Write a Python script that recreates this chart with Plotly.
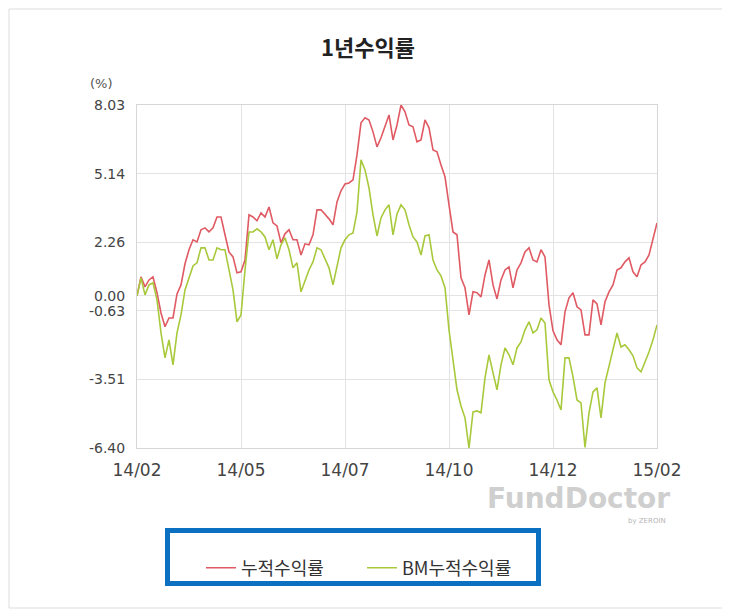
import pandas as pd
import plotly.graph_objects as go

# ---- data (cumulative returns, %) ----
start_date = "2014-02-25"
end_date = "2015-02-25"

fund_return = [
    0.00, 0.80, 0.38, 0.67, 0.80, 0.13, -0.72, -1.30, -0.93, -0.93,
    0.08, 0.46, 1.35, 1.94, 2.36, 2.27, 2.78, 2.86, 2.69, 2.86,
    3.32, 3.32, 2.57, 1.85, 1.64, 0.97, 1.01, 1.51, 3.41, 3.32,
    3.16, 3.49, 3.32, 3.74, 3.07, 2.94, 2.23, 2.61, 2.78, 2.36,
    2.36, 1.72, 2.19, 2.15, 2.57, 3.62, 3.62, 3.45, 3.24, 2.99,
    3.95, 4.42, 4.71, 4.75, 4.88, 5.93, 7.28, 7.49, 7.40, 6.90,
    6.27, 6.65, 7.11, 7.61, 6.56, 7.19, 8.03, 7.74, 7.19, 7.11,
    6.48, 6.56, 7.40, 7.07, 6.14, 6.06, 5.51, 5.01, 3.83, 2.69,
    2.57, 0.76, 0.34, -0.80, 0.17, 0.13, -0.04, 0.88, 1.51, 0.46,
    -0.13, 0.67, 1.09, 1.22, 0.34, 1.09, 1.39, 1.85, 2.02, 1.51,
    1.43, 1.94, 1.64, -0.38, -1.47, -1.85, -2.06, -0.67, -0.08, 0.13,
    -0.46, -0.59, -1.64, -1.64, -0.17, -0.34, -1.22, -0.25, 0.17, 0.46,
    1.09, 1.18, 1.43, 1.60, 1.01, 0.80, 1.30, 1.43, 1.72, 2.36,
    3.07,
]

bm_return = [
    0.00, 0.76, 0.04, 0.46, 0.55, -0.17, -1.56, -2.61, -1.85, -2.90,
    -1.56, -0.80, 0.25, 0.80, 1.26, 1.39, 2.02, 2.02, 1.51, 1.51,
    2.02, 1.94, 1.94, 1.09, 0.25, -1.09, -0.80, 1.09, 2.69, 2.69,
    2.82, 2.69, 2.48, 1.94, 2.36, 1.56, 2.15, 2.44, 1.94, 1.18,
    1.39, 0.17, 0.67, 1.09, 1.43, 2.02, 1.94, 1.56, 1.18, 0.46,
    1.30, 2.02, 2.36, 2.57, 2.65, 3.53, 5.72, 5.30, 4.54, 3.41,
    2.52, 3.28, 3.62, 3.83, 2.57, 3.45, 3.83, 3.62, 2.99, 2.48,
    2.27, 1.72, 2.52, 2.57, 1.51, 1.09, 0.84, 0.34, -1.43, -2.61,
    -3.95, -4.63, -5.13, -6.40, -4.88, -4.84, -4.92, -3.45, -2.48, -3.24,
    -3.95, -2.90, -2.19, -2.48, -2.90, -2.19, -1.94, -1.43, -1.09, -1.56,
    -1.43, -0.93, -1.14, -3.53, -4.04, -4.38, -4.80, -2.61, -2.61, -3.41,
    -4.38, -4.50, -6.38, -4.92, -4.04, -3.87, -5.13, -3.66, -2.99, -2.27,
    -1.56, -2.15, -2.06, -2.27, -2.52, -3.03, -3.20, -2.78, -2.36, -1.85,
    -1.22,
]

y_ticks = [8.03, 5.14, 2.26, 0.00, -0.63, -3.51, -6.40]
y_tick_text = ["8.03", "5.14", "2.26", "0.00", "-0.63", "-3.51", "-6.40"]
x_tick_text = ["14/02", "14/05", "14/07", "14/10", "14/12", "15/02"]
series_names = ["누적수익률", "BM누적수익률"]

dates = pd.date_range(start_date, end_date, periods=len(fund_return))
x_tick_vals = pd.date_range(start_date, end_date, periods=len(x_tick_text))

# ---- layout geometry (page has an 8px body margin) ----
OFF = 8
W, H = 730 - OFF, 611 - OFF
L, R, T, B = 137 - OFF, 657 - OFF, 105 - OFF, 448 - OFF


def px(x):
    return (x - OFF - L) / (R - L)


def py(y):
    return (B - (y - OFF)) / (B - T)


KR = "Noto Sans CJK KR, sans-serif"
TICKF = "DejaVu Sans, sans-serif"

fig = go.Figure()
fig.add_trace(go.Scatter(x=dates, y=fund_return, mode="lines", name=series_names[0],
                         line=dict(color="#e05a63", width=1.6)))
fig.add_trace(go.Scatter(x=dates, y=bm_return, mode="lines", name=series_names[1],
                         line=dict(color="#a9c93c", width=1.6)))

fig.update_layout(
    width=W, height=H,
    margin=dict(l=L, r=W - R, t=T, b=H - B),
    paper_bgcolor="white", plot_bgcolor="white",
    showlegend=True,
    hovermode=False,
    legend=dict(orientation="h", x=px(201), y=py(568), xanchor="left", yanchor="middle",
                font=dict(family=KR, size=18, color="#333333"),
                entrywidthmode="pixels", entrywidth=116,
                bgcolor="rgba(0,0,0,0)", borderwidth=0),
    xaxis=dict(range=[dates[0], dates[-1]], tickmode="array", tickvals=x_tick_vals,
               ticktext=x_tick_text, showgrid=True, gridcolor="#e3e3e3", gridwidth=1,
               showline=True, linecolor="#d6d6d6", mirror=True, zeroline=False,
               ticks="outside", ticklen=7, tickcolor="rgba(0,0,0,0)",
               tickfont=dict(family=TICKF, size=17, color="#444444")),
    yaxis=dict(range=[-6.40, 8.03], tickmode="array", tickvals=y_ticks, ticktext=y_tick_text,
               showgrid=True, gridcolor="#e3e3e3", gridwidth=1,
               showline=True, linecolor="#d6d6d6", mirror=True, zeroline=False,
               ticks="outside", ticklen=8, tickcolor="rgba(0,0,0,0)",
               tickfont=dict(family=TICKF, size=14, color="#444444")),
)

annotations = [
    dict(text="<b>1년수익률</b>", x=px(368), y=py(46), xref="paper", yref="paper",
         showarrow=False, xanchor="center", yanchor="middle",
         font=dict(family=KR, size=22, color="#222222")),
    dict(text="(%)", x=px(101), y=py(84), xref="paper", yref="paper",
         showarrow=False, xanchor="center", yanchor="middle",
         font=dict(family=TICKF, size=13, color="#555555")),
    dict(text="<b>FundDoctor</b>", x=px(578), y=py(499), xref="paper", yref="paper",
         showarrow=False, xanchor="center", yanchor="middle",
         font=dict(family="DejaVu Sans, sans-serif", size=28, color="#cfcfcf")),
    dict(text="by ZEROIN", x=px(668), y=py(521), xref="paper", yref="paper",
         showarrow=False, xanchor="right", yanchor="middle",
         font=dict(family="DejaVu Sans, sans-serif", size=7, color="#b5b5b5")),
]
fig.update_layout(annotations=annotations)

shapes = [
    # outer frame
    dict(type="rect", xref="paper", yref="paper", x0=px(9), x1=px(727), y0=py(608), y1=py(9),
         line=dict(color="#dddddd", width=1), fillcolor="rgba(0,0,0,0)", layer="below"),
    # blue highlight box round the legend
    dict(type="rect", xref="paper", yref="paper", x0=px(167.5), x1=px(538.5),
         y0=py(583.5), y1=py(530.5),
         line=dict(color="#0b6fc2", width=5), fillcolor="rgba(0,0,0,0)"),
]
fig.update_layout(shapes=shapes)

fig.write_html("out.html")
